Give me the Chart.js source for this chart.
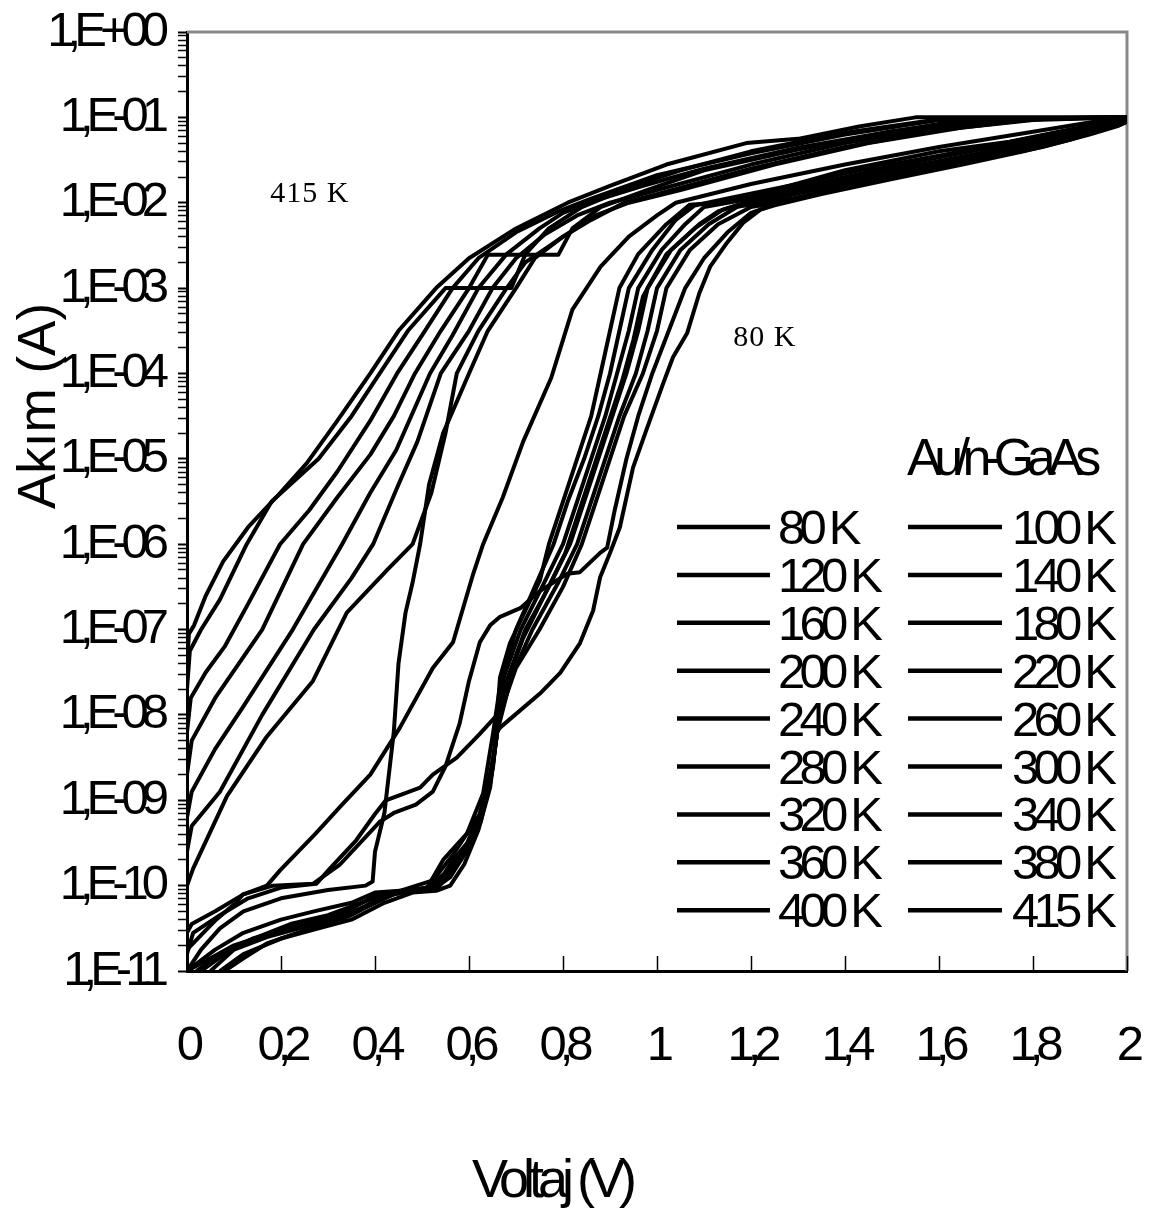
<!DOCTYPE html>
<html>
<head>
<meta charset="utf-8">
<script src="https://cdn.jsdelivr.net/npm/chart.js"></script>
<style>
html,body{margin:0;padding:0;background:#fff;}
#wrap{width:1154px;height:1210px;position:relative;}
</style>
</head>
<body>
<div id="wrap"><canvas id="c"></canvas></div>
<script>
// ---------- data (voltage V, current A) ----------
const seriesLabels = ['80 K','100 K','120 K','140 K','160 K','180 K','200 K','220 K','240 K','260 K','280 K','300 K','320 K','340 K','360 K','380 K','400 K','415 K'];

const t80 = [[0.08,1e-11],[0.12,1.41e-11],[0.17,2.1e-11],[0.25,3e-11],[0.33,4e-11],[0.4,6.3e-11],[0.453,8.7e-11],[0.511,8.7e-11],[0.538,1e-10],[0.566,1.58e-10],[0.6,2.8e-10],[0.625,6.3e-10],[0.645,1.58e-9],[0.66,6.3e-9],[0.666,7.1e-9],[0.751,1.78e-8],[0.794,3.1e-8],[0.836,6.9e-8],[0.864,1.66e-7],[0.879,4.1e-7],[0.9,7.9e-7],[0.921,1.58e-6],[0.949,7.9e-6],[0.979,2.3e-5],[1.013,7.6e-5],[1.034,1.55e-4],[1.064,2.95e-4],[1.09,8.7e-4],[1.113,1.78e-3],[1.149,3.4e-3],[1.183,5.8e-3],[1.22,8.3e-3],[1.25,9.3e-3],[1.35,1.26e-2],[1.5,1.9e-2],[1.65,2.8e-2],[1.78,4e-2],[1.88,5.5e-2],[1.96,7.6e-2],[2,8.9e-2]];
const t100 = [[0,1.78e-11],[0.062,4e-11],[0.104,6.3e-11],[0.119,7.9e-11],[0.183,1e-10],[0.268,1.05e-10],[0.326,1.78e-10],[0.41,5.6e-10],[0.44,7.1e-10],[0.487,8.9e-10],[0.523,1.26e-9],[0.55,2.5e-9],[0.58,7.9e-9],[0.6,2.5e-8],[0.623,7.1e-8],[0.645,1.12e-7],[0.666,1.41e-7],[0.709,1.78e-7],[0.75,2.8e-7],[0.809,4.5e-7],[0.836,4.7e-7],[0.879,7.9e-7],[0.894,9.1e-7],[0.91,2.5e-6],[0.935,1e-5],[0.96,3.16e-5],[0.99,1e-4],[1.025,3.16e-4],[1.06,1e-3],[1.1,2.24e-3],[1.15,4.5e-3],[1.2,7.6e-3],[1.25,9.5e-3],[1.35,1.32e-2],[1.5,2e-2],[1.65,3e-2],[1.77,4.2e-2],[1.87,5.8e-2],[1.95,7.6e-2],[2,8.9e-2]];
const t120 = [[0.02,1e-11],[0.07,1.58e-11],[0.14,2.4e-11],[0.22,3.16e-11],[0.3,4e-11],[0.38,5.6e-11],[0.44,7.9e-11],[0.5,8.7e-11],[0.55,1.41e-10],[0.59,2.5e-10],[0.625,5.6e-10],[0.648,2e-9],[0.66,6.3e-9],[0.675,2e-8],[0.715,7.9e-8],[0.76,2.5e-7],[0.805,7.9e-7],[0.835,2.5e-6],[0.865,7.9e-6],[0.895,2.5e-5],[0.925,7.9e-5],[0.95,2.5e-4],[0.97,7.9e-4],[1.02,2.5e-3],[1.08,5e-3],[1.14,8.3e-3],[1.2,1.05e-2],[1.32,1.51e-2],[1.48,2.3e-2],[1.64,3.4e-2],[1.8,5e-2],[1.9,6.8e-2],[1.97,8.3e-2],[2,9.3e-2]];
const t140 = [[0,1e-11],[0.05,1.41e-11],[0.1,2e-11],[0.18,2.8e-11],[0.26,3.8e-11],[0.34,5e-11],[0.4,7.6e-11],[0.46,8.7e-11],[0.52,8.7e-11],[0.56,1.26e-10],[0.6,2.8e-10],[0.63,7.9e-10],[0.655,4e-9],[0.665,1e-8],[0.7,3.55e-8],[0.75,1e-7],[0.8,3.16e-7],[0.84,1e-6],[0.87,3.16e-6],[0.9,1e-5],[0.93,3.16e-5],[0.97,1e-4],[1,3.16e-4],[1.02,1e-3],[1.07,2.8e-3],[1.13,5.6e-3],[1.2,8.9e-3],[1.25,1e-2],[1.35,1.35e-2],[1.5,2e-2],[1.66,3e-2],[1.82,4.5e-2],[1.92,6.3e-2],[1.98,7.9e-2],[2,8.9e-2]];
const t160 = [[0.07,1e-11],[0.12,1.58e-11],[0.2,2.4e-11],[0.28,3.16e-11],[0.35,4e-11],[0.42,6.3e-11],[0.48,8.3e-11],[0.53,8.7e-11],[0.56,1e-10],[0.59,1.78e-10],[0.62,4.5e-10],[0.645,1.41e-9],[0.66,6.3e-9],[0.69,2.8e-8],[0.735,1e-7],[0.79,3.55e-7],[0.83,1e-6],[0.86,3.16e-6],[0.89,1e-5],[0.92,3.16e-5],[0.955,1e-4],[0.98,3.16e-4],[1,1e-3],[1.05,2.8e-3],[1.11,5.6e-3],[1.17,8.9e-3],[1.25,1.12e-2],[1.35,1.48e-2],[1.49,2.1e-2],[1.65,3.16e-2],[1.8,4.6e-2],[1.9,6.3e-2],[1.97,7.9e-2],[2,8.9e-2]];
const t180 = [[0.05,1e-11],[0.1,1.78e-11],[0.17,2.5e-11],[0.25,3.3e-11],[0.33,4.2e-11],[0.4,6.6e-11],[0.45,8.3e-11],[0.511,8.7e-11],[0.538,1.15e-10],[0.566,2e-10],[0.596,3.16e-10],[0.623,6.9e-10],[0.645,1.86e-9],[0.651,2.95e-9],[0.66,7.1e-9],[0.68,2.5e-8],[0.72,1e-7],[0.77,3.16e-7],[0.815,1e-6],[0.845,3.16e-6],[0.875,1e-5],[0.905,3.16e-5],[0.935,1e-4],[0.96,3.16e-4],[0.98,1e-3],[1.03,2.8e-3],[1.09,5.6e-3],[1.13,7.9e-3],[1.17,9.3e-3],[1.22,9.3e-3],[1.3,1.32e-2],[1.47,2.2e-2],[1.62,3.16e-2],[1.78,4.8e-2],[1.88,6.3e-2],[1.96,8.1e-2],[2,8.9e-2]];
const t200 = [[0.03,1e-11],[0.08,1.58e-11],[0.15,2.5e-11],[0.22,3.55e-11],[0.3,4.5e-11],[0.37,6.3e-11],[0.43,8.3e-11],[0.511,9.5e-11],[0.545,2e-10],[0.596,4.1e-10],[0.63,1.2e-9],[0.651,6e-9],[0.665,2e-8],[0.71,1e-7],[0.76,3.55e-7],[0.8,1e-6],[0.83,3.16e-6],[0.86,1e-5],[0.89,3.16e-5],[0.915,1e-4],[0.94,3.16e-4],[0.96,1e-3],[1.01,2.8e-3],[1.06,5.6e-3],[1.1,8.9e-3],[1.18,1.07e-2],[1.3,1.51e-2],[1.45,2.3e-2],[1.6,3.4e-2],[1.76,5e-2],[1.86,6.5e-2],[1.95,8.3e-2],[2,9.1e-2]];
const t220 = [[0,1e-11],[0.06,1.78e-11],[0.12,2.8e-11],[0.2,4e-11],[0.27,5e-11],[0.35,6.3e-11],[0.4,8.3e-11],[0.453,8.7e-11],[0.523,1.15e-10],[0.566,2.3e-10],[0.623,6.9e-10],[0.651,2.4e-9],[0.66,7.9e-9],[0.675,3.16e-8],[0.7,1e-7],[0.74,3.16e-7],[0.78,1e-6],[0.81,3.16e-6],[0.845,1e-5],[0.875,3.16e-5],[0.9,1e-4],[0.92,3.16e-4],[0.94,1e-3],[0.99,2.8e-3],[1.04,6.3e-3],[1.08,9.3e-3],[1.15,1.12e-2],[1.3,1.66e-2],[1.43,2.4e-2],[1.6,3.55e-2],[1.74,5e-2],[1.85,6.6e-2],[1.95,8.5e-2],[2,9.3e-2]];
const t240 = [[0,1.58e-11],[0.013,2.8e-11],[0.07,4.5e-11],[0.13,7.1e-11],[0.2,9.5e-11],[0.275,1.05e-10],[0.304,1.58e-10],[0.36,3.4e-10],[0.4,6.9e-10],[0.423,1e-9],[0.496,1.41e-9],[0.523,2e-9],[0.574,3.16e-9],[0.623,6e-9],[0.66,1e-8],[0.666,2.75e-8],[0.687,6.9e-8],[0.723,1.82e-7],[0.751,3.8e-7],[0.77,1e-6],[0.8,3.16e-6],[0.83,1e-5],[0.86,3.16e-5],[0.88,1e-4],[0.9,3.16e-4],[0.92,1e-3],[0.96,2.5e-3],[1.02,5.6e-3],[1.07,9.5e-3],[1.13,1e-2],[1.25,1.41e-2],[1.4,2.4e-2],[1.6,4e-2],[1.75,5.2e-2],[1.9,7.6e-2],[2,9.3e-2]];
const t260 = [[0,2.8e-11],[0.01,3.55e-11],[0.06,5e-11],[0.12,7.9e-11],[0.17,1e-10],[0.198,1.51e-10],[0.274,4.1e-10],[0.33,8.9e-10],[0.39,2e-9],[0.453,7.1e-9],[0.523,3.55e-8],[0.566,7.1e-8],[0.609,4.5e-7],[0.63,1e-6],[0.672,3.55e-6],[0.715,1.58e-5],[0.775,8.9e-5],[0.82,5.6e-4],[0.88,1.78e-3],[0.94,4e-3],[1,7.1e-3],[1.04,1e-2],[1.2,1.66e-2],[1.4,2.8e-2],[1.6,4.5e-2],[1.8,6.8e-2],[1.93,8.9e-2],[2,9.5e-2]];
const t280 = [[0,1e-11],[0.03,1.78e-11],[0.07,3.16e-11],[0.12,5e-11],[0.2,7.1e-11],[0.3,8.9e-11],[0.38,1e-10],[0.395,1.12e-10],[0.4,2.5e-10],[0.42,7.1e-10],[0.44,6.3e-9],[0.45,4e-8],[0.465,1.58e-7],[0.48,3.55e-7],[0.496,1e-6],[0.515,5e-6],[0.545,2e-5],[0.6,1e-4],[0.64,3.16e-4],[0.7,1e-3],[0.74,2.24e-3],[0.8,4e-3],[0.86,6.3e-3],[0.93,1e-2],[1,1.26e-2],[1.2,2.5e-2],[1.4,4.5e-2],[1.6,7.1e-2],[1.8,9.3e-2],[2,0.1]];
const t300 = [[0,1e-10],[0.013,1.58e-10],[0.085,1.12e-9],[0.17,5.6e-9],[0.268,2.5e-8],[0.34,1.58e-7],[0.426,5e-7],[0.48,1e-6],[0.52,4e-6],[0.55,2e-5],[0.574,1e-4],[0.62,3.16e-4],[0.68,1e-3],[0.72,2e-3],[0.8,4e-3],[0.87,7.1e-3],[0.94,1e-2],[1.05,1.41e-2],[1.25,2.8e-2],[1.45,5e-2],[1.65,7.6e-2],[1.8,9.5e-2],[2,0.1]];
const t320 = [[0,2.5e-10],[0.01,5e-10],[0.07,1.26e-9],[0.16,1e-8],[0.27,1e-7],[0.35,4e-7],[0.396,1e-6],[0.45,5e-6],[0.49,1.58e-5],[0.54,1e-4],[0.6,3.16e-4],[0.65,1e-3],[0.7,2.24e-3],[0.76,4.2e-3],[0.83,7.1e-3],[0.9,1e-2],[1,1.41e-2],[1.2,2.8e-2],[1.4,5e-2],[1.6,7.6e-2],[1.75,9.5e-2],[2,0.1]];
const t340 = [[0,6.3e-10],[0.01,1.26e-9],[0.06,4e-9],[0.12,1.26e-8],[0.225,1e-7],[0.33,1e-6],[0.39,4e-6],[0.445,1.26e-5],[0.517,1e-4],[0.565,2.8e-4],[0.62,1e-3],[0.68,2.5e-3],[0.75,5e-3],[0.8,7.6e-3],[0.87,1.07e-2],[0.97,1.58e-2],[1.1,2.5e-2],[1.3,4.4e-2],[1.5,6.9e-2],[1.7,9.5e-2],[2,0.1]];
const t360 = [[0,2e-9],[0.01,5e-9],[0.06,1.58e-8],[0.16,1e-7],[0.247,1e-6],[0.32,3.55e-6],[0.39,1.12e-5],[0.44,3.16e-5],[0.485,1e-4],[0.54,3.16e-4],[0.6,1e-3],[0.64,2.45e-3],[0.79,2.45e-3],[0.82,5e-3],[0.88,8.9e-3],[0.98,1.41e-2],[1.1,2.4e-2],[1.3,4.2e-2],[1.5,6.8e-2],[1.65,9.3e-2],[2,0.1]];
const t380 = [[0,6.3e-9],[0.008,1.58e-8],[0.04,3.16e-8],[0.08,6.3e-8],[0.13,2e-7],[0.198,1e-6],[0.26,2.5e-6],[0.32,7.1e-6],[0.39,2.8e-5],[0.447,1e-4],[0.5,2.8e-4],[0.565,1e-3],[0.62,2.24e-3],[0.7,4.5e-3],[0.79,7.9e-3],[0.86,1.12e-2],[1,2.1e-2],[1.2,3.8e-2],[1.4,6.3e-2],[1.6,9.3e-2],[2,0.1]];
const t400 = [[0,2e-8],[0.006,5.6e-8],[0.03,1e-7],[0.07,2.24e-7],[0.127,1e-6],[0.18,3.16e-6],[0.28,1e-5],[0.35,3.16e-5],[0.41,1e-4],[0.47,3.16e-4],[0.55,1e-3],[0.69,1e-3],[0.72,2.5e-3],[0.77,5e-3],[0.84,8.9e-3],[0.95,1.58e-2],[1.05,2.4e-2],[1.2,4e-2],[1.4,6.6e-2],[1.6,9.5e-2],[2,0.1]];
const t415 = [[0,3.55e-8],[0.004,8.9e-8],[0.015,1.12e-7],[0.04,2.5e-7],[0.077,6.3e-7],[0.13,1.58e-6],[0.19,3.55e-6],[0.255,8.9e-6],[0.32,2.8e-5],[0.39,1e-4],[0.45,3.16e-4],[0.53,1e-3],[0.6,2.24e-3],[0.7,5e-3],[0.81,1e-2],[0.9,1.58e-2],[1.02,2.8e-2],[1.19,5e-2],[1.3,5.6e-2],[1.43,7.8e-2],[1.55,0.1],[2,0.1]];

const seriesData = [t80,t100,t120,t140,t160,t180,t200,t220,t240,t260,t280,t300,t320,t340,t360,t380,t400,t415];

// ---------- axes ----------
const xTickValues = [0,0.2,0.4,0.6,0.8,1,1.2,1.4,1.6,1.8,2];
const xTickLabels = ['0','0,2','0,4','0,6','0,8','1','1,2','1,4','1,6','1,8','2'];
const yTickValues = [1e-11,1e-10,1e-9,1e-8,1e-7,1e-6,1e-5,1e-4,1e-3,1e-2,1e-1,1];
const yTickLabels = ['1,E-11','1,E-10','1,E-09','1,E-08','1,E-07','1,E-06','1,E-05','1,E-04','1,E-03','1,E-02','1,E-01','1,E+00'];
const xTitle = 'Voltaj (V)';
const yTitle = 'Akım (A)';
const legendTitle = 'Au/n-GaAs';
const notes = [{text:'415 K', x:0.177, y:1.02e-2}, {text:'80 K', x:1.162, y:2.1e-4}];

const SANS = '"Liberation Sans", Arial, sans-serif';
const SERIF = '"Liberation Serif", "Times New Roman", serif';

function yTicks() {
  const out = [];
  for (let i = 0; i < yTickValues.length; i++) {
    out.push({value: yTickValues[i], major: true, lab: yTickLabels[i]});
    if (i < yTickValues.length - 1) {
      for (let m = 2; m <= 9; m++) out.push({value: yTickValues[i] * m, major: false, lab: ''});
    }
  }
  return out;
}

const framePlugin = {
  id: 'frame',
  beforeDraw(chart) {
    chart.ctx.letterSpacing = '-7px';
  },
  beforeDatasetsDraw(chart) {
    const {ctx, chartArea: a} = chart;
    const xs = chart.scales.x;
    ctx.save();
    ctx.strokeStyle = '#888888';
    ctx.lineWidth = 3;
    ctx.beginPath();
    ctx.moveTo(a.left, a.top);
    ctx.lineTo(a.right, a.top);
    ctx.lineTo(a.right, a.bottom);
    ctx.stroke();
    // inward x ticks
    ctx.strokeStyle = '#000';
    ctx.lineWidth = 1.5;
    xTickValues.forEach((v, i) => {
      if (i === 0) return;
      const px = Math.round(xs.getPixelForValue(v)) + 0.5;
      ctx.beginPath();
      ctx.moveTo(px, a.bottom);
      ctx.lineTo(px, a.bottom - 15);
      ctx.stroke();
    });
    ctx.restore();
  },
  afterDraw(chart) {
    const ctx = chart.ctx;
    const xs = chart.scales.x, ys = chart.scales.y;
    ctx.save();
    ctx.fillStyle = '#000';
    ctx.textBaseline = 'alphabetic';
    ctx.textAlign = 'left';
    // legend
    ctx.letterSpacing = '-7.5px';
    ctx.font = '52px ' + SANS;
    ctx.fillText(legendTitle, 907, 475);
    ctx.letterSpacing = '-5.8px';
    ctx.font = '49px ' + SANS;
    chart.data.datasets.forEach((ds, i) => {
      const col = i % 2, row = Math.floor(i / 2);
      const y = 527 + row * 47.9;
      const x0 = col ? 908 : 677, x1 = col ? 1002 : 770, tx = col ? 1012 : 778;
      ctx.strokeStyle = ds.borderColor;
      ctx.lineWidth = 4.5;
      ctx.beginPath();
      ctx.moveTo(x0, y);
      ctx.lineTo(x1, y);
      ctx.stroke();
      ctx.fillText(ds.label, tx, y + 17);
    });
    // x title
    ctx.letterSpacing = '-6px';
    ctx.font = '54px ' + SANS;
    ctx.fillText(xTitle, 472, 1197);
    // y title
    ctx.save();
    ctx.letterSpacing = '0px';
    ctx.font = '53px ' + SANS;
    ctx.translate(55, 406);
    ctx.rotate(-Math.PI / 2);
    ctx.textAlign = 'center';
    ctx.fillText(yTitle, 0, 0);
    ctx.restore();
    // annotations
    ctx.letterSpacing = '1px';
    ctx.font = '30px ' + SERIF;
    notes.forEach(n => {
      ctx.fillText(n.text, xs.getPixelForValue(n.x), ys.getPixelForValue(n.y));
    });
    ctx.restore();
  }
};

const datasets = seriesData.map((pts, i) => ({
  label: seriesLabels[i],
  data: pts.map(p => ({x: p[0], y: p[1]})),
  borderColor: '#000000',
  backgroundColor: '#000000',
  borderWidth: 4,
  pointRadius: 0,
  tension: 0,
  fill: false,
  borderJoinStyle: 'round'
}));

new Chart(document.getElementById('c'), {
  type: 'line',
  data: {datasets},
  plugins: [framePlugin],
  options: {
    responsive: true,
    maintainAspectRatio: false,
    animation: false,
    devicePixelRatio: 1,
    layout: {padding: {left: 0, top: 32, right: 27, bottom: 0}},
    plugins: {legend: {display: false}, tooltip: {enabled: false}},
    events: [],
    scales: {
      x: {
        type: 'linear',
        min: 0, max: 2,
        afterBuildTicks: (s) => { s.ticks = xTickValues.map((v, i) => ({value: v, lab: xTickLabels[i]})); },
        afterFit: (s) => { s.height = 239; s.paddingLeft = 0; s.paddingRight = 0; s.paddingTop = 0; s.paddingBottom = 0; },
        ticks: {
          autoSkip: false, maxRotation: 0, minRotation: 0,
          padding: 46,
          color: '#000',
          font: {family: SANS, size: 49},
          callback: (v, i, ticks) => ticks[i].lab
        },
        grid: {display: false, drawTicks: false},
        border: {display: true, color: '#000', width: 3}
      },
      y: {
        type: 'logarithmic',
        min: 1e-11, max: 1,
        afterBuildTicks: (s) => { s.ticks = yTicks(); },
        afterFit: (s) => { s.width = 187; s.paddingLeft = 0; s.paddingRight = 0; s.paddingTop = 0; s.paddingBottom = 0; },
        ticks: {
          autoSkip: false,
          padding: 16,
          color: '#000',
          font: {family: SANS, size: 49},
          callback: (v, i, ticks) => ticks[i].lab
        },
        grid: {
          display: true, drawOnChartArea: false, drawTicks: true, tickLength: 9,
          tickColor: '#000',
          tickWidth: (c) => (c.tick && c.tick.major) ? 2 : 1.5
        },
        border: {display: true, color: '#000', width: 3}
      }
    }
  }
});
</script>
</body>
</html>
